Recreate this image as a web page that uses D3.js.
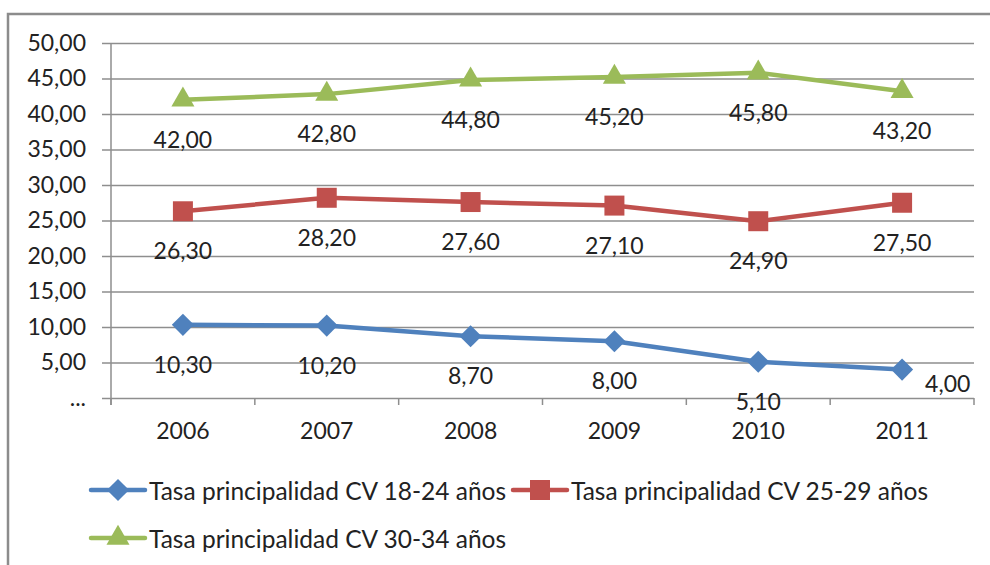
<!DOCTYPE html>
<html>
<head>
<meta charset="utf-8">
<script src="https://cdn.jsdelivr.net/npm/d3@7"></script>
<style>
  body { margin: 0; background: #fff; }
  svg text { font-family: Lato, "Open Sans", sans-serif; fill: #222; }
</style>
</head>
<body>
<div id="chart"></div>
<script>
// data
var years = ["2006", "2007", "2008", "2009", "2010", "2011"];
var tasa1824 = [10.30, 10.20, 8.70, 8.00, 5.10, 4.00];
var tasa2529 = [26.30, 28.20, 27.60, 27.10, 24.90, 27.50];
var tasa3034 = [42.00, 42.80, 44.80, 45.20, 45.80, 43.20];
var seriesNames = ["Tasa principalidad CV 18-24 años", "Tasa principalidad CV 25-29 años", "Tasa principalidad CV 30-34 años"];
var yTicks = [0, 5, 10, 15, 20, 25, 30, 35, 40, 45, 50];
var yTickLabels = ["...", "5,00", "10,00", "15,00", "20,00", "25,00", "30,00", "35,00", "40,00", "45,00", "50,00"];

var width = 990, height = 565;
var margin = {top: 43, left: 111, right: 16, bottom: 167};
var numSize = "23px", legendSize = "24.5px";

// diamond = square turned 45 degrees, like the excel marker
var series = [
    {name: seriesNames[0], values: tasa1824, color: "#4f81bd", symbol: d3.symbolSquare, size: 245, rotate: 45},
    {name: seriesNames[1], values: tasa2529, color: "#c0504d", symbol: d3.symbolSquare, size: 400, rotate: 0},
    {name: seriesNames[2], values: tasa3034, color: "#9bbb59", symbol: d3.symbolTriangle, size: 230, rotate: 0}
];

var svg = d3.select("#chart")
    .append("svg")
    .attr("width", width)
    .attr("height", height);

// chart frame (right and bottom edges fall outside the picture)
svg.append("rect")
    .attr("x", 8).attr("y", 14)
    .attr("width", 1000).attr("height", 600)
    .attr("fill", "none")
    .attr("stroke", "#8c8c8c")
    .attr("stroke-width", 2.5);

var x = d3.scaleBand()
    .domain(years)
    .range([margin.left, width - margin.right]);

var y = d3.scaleLinear()
    .domain([0, 50])
    .range([height - margin.bottom, margin.top]);

var gridColor = "#8e8e8e";

// horizontal gridlines + y axis
var yAxis = svg.append("g")
    .attr("transform", "translate(" + margin.left + ",0)")
    .call(d3.axisLeft(y)
        .tickValues(yTicks)
        .tickSize(-(width - margin.right - margin.left))
        .tickSizeOuter(0)
        .tickPadding(25)
        .tickFormat(function(d, i) { return yTickLabels[i]; }));
yAxis.select(".domain").remove();
yAxis.selectAll(".tick line")
    .attr("x1", -9)
    .attr("stroke", gridColor)
    .attr("stroke-width", 1.5);
yAxis.selectAll(".tick text")
    .style("font-size", numSize)
    .attr("fill", "#222");

svg.append("line")
    .attr("x1", margin.left).attr("x2", margin.left)
    .attr("y1", y(50)).attr("y2", y(0) + 7)
    .attr("stroke", gridColor)
    .attr("stroke-width", 1.5);

// x axis
var xAxis = svg.append("g")
    .attr("transform", "translate(0," + y(0) + ")")
    .call(d3.axisBottom(x).tickSize(0).tickPadding(25));
xAxis.select(".domain").remove();
xAxis.selectAll(".tick text")
    .style("font-size", numSize)
    .attr("fill", "#222");

// category boundary ticks on the x axis
var boundaries = years.map(function(d) { return x(d); }).concat([x(years[years.length - 1]) + x.bandwidth()]);
svg.append("g").selectAll("line")
    .data(boundaries)
    .enter()
    .append("line")
    .attr("x1", function(d) { return d; })
    .attr("x2", function(d) { return d; })
    .attr("y1", y(0))
    .attr("y2", y(0) + 7)
    .attr("stroke", gridColor)
    .attr("stroke-width", 1.5);

var cx = function(i) { return x(years[i]) + x.bandwidth() / 2; };
var fmt = function(v) { return v.toFixed(2).replace(".", ","); };

var line = d3.line()
    .x(function(d, i) { return cx(i); })
    .y(function(d) { return y(d); });

function markerPath(s) {
    return d3.symbol().type(s.symbol).size(s.size)();
}

series.forEach(function(s, si) {
    var g = svg.append("g");

    g.append("path")
        .datum(s.values)
        .attr("d", line)
        .attr("fill", "none")
        .attr("stroke", s.color)
        .attr("stroke-width", 4.5)
        .attr("stroke-linejoin", "round");

    g.selectAll(".marker")
        .data(s.values)
        .enter()
        .append("path")
        .attr("class", "marker")
        .attr("transform", function(d, i) { return "translate(" + cx(i) + "," + y(d) + ") rotate(" + s.rotate + ")"; })
        .attr("d", markerPath(s))
        .attr("fill", s.color);

    // value labels below the point; the last blue one sits at the right
    var isRight = function(i) { return si === 0 && i === years.length - 1; };
    g.selectAll(".lbl")
        .data(s.values)
        .enter()
        .append("text")
        .attr("class", "lbl")
        .attr("x", function(d, i) { return isRight(i) ? cx(i) + 23 : cx(i); })
        .attr("y", function(d, i) {
            if (isRight(i)) return y(d) + 13;
            return Math.min(y(d) + 39, y(0) + 5);
        })
        .attr("text-anchor", function(d, i) { return isRight(i) ? "start" : "middle"; })
        .attr("dominant-baseline", "central")
        .style("font-size", numSize)
        .text(fmt);
});

// legend
var legendPos = [
    {x: 91, y: 490},
    {x: 513, y: 490},
    {x: 91, y: 538}
];
var legend = svg.append("g")
    .selectAll("g")
    .data(series)
    .enter()
    .append("g")
    .attr("transform", function(d, i) { return "translate(" + legendPos[i].x + "," + legendPos[i].y + ")"; });

legend.append("line")
    .attr("x1", 0).attr("x2", 54)
    .attr("stroke", function(d) { return d.color; })
    .attr("stroke-width", 4.5)
    .attr("stroke-linecap", "round");

legend.append("path")
    .attr("transform", function(d) { return "translate(27,0) rotate(" + d.rotate + ")"; })
    .attr("d", markerPath)
    .attr("fill", function(d) { return d.color; });

legend.append("text")
    .attr("x", 58)
    .attr("dominant-baseline", "central")
    .style("font-size", legendSize)
    .text(function(d) { return d.name; });
</script>
</body>
</html>
